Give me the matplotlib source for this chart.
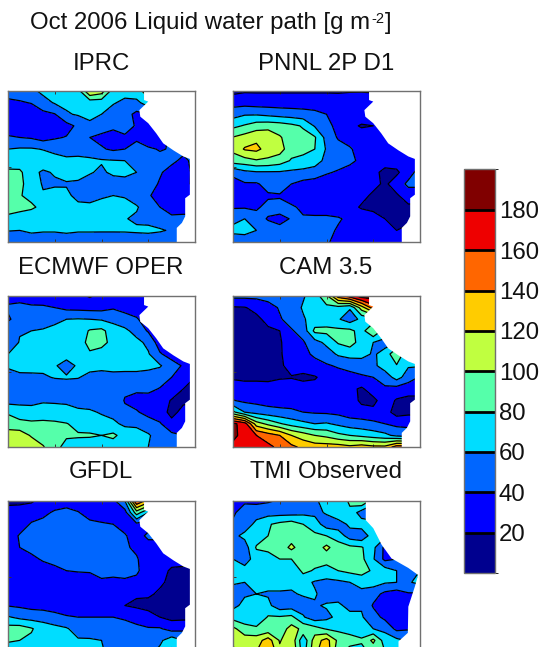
import numpy as np
import matplotlib
matplotlib.use("Agg")
import matplotlib.pyplot as plt
from matplotlib.colors import ListedColormap, BoundaryNorm

plt.rcParams['font.family'] = ['Liberation Sans', 'DejaVu Sans']

# grille : 17 longitudes, 14 latitudes (nord -> sud)
lon = np.linspace(-110, -70, 17)
lat = np.linspace(0, -30, 14)
levels = [0, 20, 40, 60, 80, 100, 120, 140, 160, 180, 200]
colors = ['#00008f', '#0000ff', '#0066ff', '#00ddff', '#55ffaa',
          '#c0ff40', '#ffcc00', '#ff6600', '#ee0000', '#800000']

titles = ['IPRC', 'PNNL 2P D1', 'ECMWF OPER', 'CAM 3.5', 'GFDL', 'TMI Observed']

iprc = [
    [50, 50, 55, 65, 68, 70, 72, 120, 110, 70, 68, 72, 90, 60, 60, 60, 60],
    [35, 38, 41, 52, 62, 64, 66, 68, 68, 62, 55, 55, 70, 50, 50, 50, 50],
    [32, 30, 28, 35, 39, 58, 62, 66, 60, 50, 48, 35, 40, 40, 40, 40, 40],
    [30, 28, 27, 28, 30, 33, 44, 55, 50, 48, 48, 38, 20, 25, 30, 30, 30],
    [42, 40, 38, 32, 38, 41, 41, 40, 35, 25, 37, 38, 22, 30, 45, 45, 45],
    [60, 62, 62, 59, 53, 48, 47, 46, 42, 37, 40, 44, 44, 38, 42, 45, 45],
    [67, 68, 70, 72, 70, 66, 68, 65, 62, 61, 60, 53, 50, 48, 44, 36, 45],
    [85, 84, 66, 57, 62, 68, 78, 62, 56, 65, 68, 60, 45, 42, 33, 32, 45],
    [80, 84, 72, 58, 57, 58, 52, 50, 50, 48, 48, 50, 48, 38, 30, 33, 45],
    [90, 82, 72, 62, 68, 65, 53, 50, 57, 60, 58, 50, 42, 33, 28, 30, 30],
    [100, 90, 85, 72, 69, 68, 66, 66, 68, 70, 68, 62, 50, 40, 30, 32, 32],
    [68, 65, 60, 64, 68, 70, 70, 68, 68, 65, 61, 57, 55, 50, 45, 45, 45],
    [61, 60, 64, 62, 62, 64, 62, 62, 62, 62, 62, 63, 64, 62, 58, 55, 55],
    [45, 45, 47, 48, 48, 48, 48, 48, 47, 47, 48, 48, 48, 47, 45, 45, 45],
]
pnnl = [
    [15, 18, 18, 18, 18, 18, 18, 18, 18, 18, 18, 18, 18, 18, 18, 18, 18],
    [32, 32, 30, 30, 30, 30, 30, 30, 30, 28, 35, 38, 30, 30, 30, 30, 30],
    [52, 58, 58, 55, 52, 50, 48, 45, 40, 33, 22, 32, 38, 30, 30, 30, 30],
    [75, 82, 90, 92, 90, 85, 78, 58, 45, 35, 25, 18, 20, 30, 30, 30, 30],
    [101, 108, 115, 115, 102, 90, 86, 82, 53, 38, 32, 30, 35, 38, 30, 30, 30],
    [105, 122, 125, 112, 108, 88, 88, 80, 58, 48, 42, 32, 32, 35, 28, 28, 28],
    [90, 92, 98, 96, 90, 78, 72, 68, 55, 48, 44, 36, 28, 28, 28, 30, 30],
    [45, 55, 58, 58, 58, 56, 55, 52, 42, 38, 33, 28, 25, 15, 17, 30, 50],
    [33, 38, 38, 46, 52, 40, 33, 30, 30, 30, 28, 25, 25, 17, 28, 45, 45],
    [30, 28, 30, 38, 38, 30, 28, 28, 28, 28, 27, 25, 17, 15, 18, 28, 28],
    [38, 38, 38, 44, 46, 43, 36, 30, 30, 28, 26, 18, 15, 15, 15, 17, 17],
    [55, 60, 45, 39, 36, 41, 42, 44, 44, 42, 36, 32, 28, 20, 15, 18, 18],
    [65, 67, 60, 46, 44, 47, 50, 48, 45, 38, 30, 30, 28, 28, 20, 22, 22],
    [48, 48, 48, 46, 46, 46, 46, 44, 42, 35, 30, 30, 28, 28, 25, 25, 25],
]
ecmwf = [
    [35, 33, 30, 32, 30, 30, 25, 18, 25, 28, 30, 30, 25, 25, 25, 25, 25],
    [42, 45, 43, 42, 40, 35, 34, 33, 33, 38, 35, 30, 30, 30, 30, 30, 30],
    [38, 46, 48, 50, 53, 60, 61, 60, 58, 54, 46, 42, 30, 30, 30, 30, 30],
    [50, 58, 60, 62, 68, 62, 68, 82, 85, 70, 65, 52, 38, 30, 30, 30, 30],
    [40, 62, 65, 68, 75, 80, 72, 85, 88, 72, 68, 66, 55, 30, 30, 30, 30],
    [60, 66, 68, 68, 66, 68, 72, 78, 70, 70, 68, 67, 62, 42, 32, 32, 32],
    [62, 66, 65, 64, 62, 52, 63, 66, 66, 68, 68, 66, 65, 62, 48, 38, 38],
    [54, 56, 57, 58, 61, 62, 61, 55, 52, 53, 52, 54, 52, 48, 40, 32, 20],
    [45, 42, 45, 48, 50, 50, 50, 50, 53, 50, 45, 44, 44, 39, 35, 20, 20],
    [52, 55, 57, 58, 58, 58, 52, 50, 60, 60, 38, 32, 33, 32, 18, 17, 18],
    [78, 68, 64, 68, 66, 64, 64, 63, 58, 54, 46, 42, 33, 28, 15, 25, 25],
    [88, 87, 85, 85, 84, 81, 74, 72, 68, 64, 56, 56, 50, 42, 25, 28, 28],
    [112, 110, 98, 88, 84, 82, 82, 82, 80, 84, 72, 68, 62, 52, 45, 40, 40],
    [115, 112, 112, 102, 85, 75, 72, 70, 70, 70, 66, 70, 60, 52, 48, 48, 48],
]
cam = [
    [45, 45, 45, 48, 50, 52, 58, 70, 95, 150, 170, 190, 190, 190, 190, 190, 190],
    [18, 19, 25, 32, 42, 50, 62, 66, 75, 72, 62, 110, 150, 150, 150, 150, 150],
    [15, 15, 16, 25, 38, 48, 58, 68, 70, 62, 50, 65, 70, 70, 70, 70, 70],
    [12, 12, 14, 17, 20, 38, 48, 85, 85, 85, 85, 72, 100, 70, 70, 70, 70],
    [12, 12, 12, 14, 18, 30, 38, 52, 65, 82, 88, 72, 60, 55, 60, 60, 60],
    [12, 12, 12, 14, 18, 28, 37, 42, 50, 63, 68, 66, 58, 65, 100, 60, 60],
    [12, 12, 12, 14, 17, 26, 30, 36, 38, 42, 45, 50, 55, 70, 78, 62, 62],
    [17, 15, 15, 14, 18, 19, 15, 18, 28, 32, 35, 37, 40, 48, 68, 50, 38],
    [32, 30, 30, 30, 30, 30, 30, 28, 22, 28, 25, 17, 30, 37, 32, 28, 28],
    [41, 36, 34, 32, 32, 33, 35, 33, 32, 32, 30, 16, 15, 30, 18, 15, 15],
    [85, 60, 53, 48, 45, 43, 40, 38, 37, 35, 30, 28, 25, 28, 12, 15, 15],
    [185, 170, 110, 95, 82, 72, 65, 60, 62, 56, 50, 48, 45, 40, 35, 35, 35],
    [190, 165, 160, 150, 140, 120, 110, 100, 95, 85, 80, 75, 70, 65, 55, 50, 50],
    [170, 165, 165, 165, 155, 145, 135, 130, 130, 130, 125, 130, 125, 125, 150, 150, 150],
]
gfdl = [
    [15, 15, 18, 25, 28, 30, 30, 30, 32, 35, 60, 160, 130, 130, 130, 130, 130],
    [28, 30, 30, 35, 43, 47, 41, 33, 30, 30, 32, 90, 60, 60, 60, 60, 60],
    [28, 30, 42, 46, 48, 48, 47, 44, 42, 40, 32, 35, 30, 30, 30, 30, 30],
    [28, 42, 46, 47, 48, 48, 50, 55, 46, 44, 42, 30, 45, 45, 45, 45, 45],
    [28, 40, 45, 45, 47, 48, 52, 47, 46, 46, 43, 36, 30, 30, 30, 30, 30],
    [28, 32, 36, 42, 45, 46, 46, 46, 46, 45, 44, 42, 28, 27, 25, 25, 25],
    [27, 27, 28, 32, 36, 40, 41, 41, 44, 45, 46, 43, 30, 25, 18, 17, 17],
    [25, 25, 26, 27, 28, 30, 32, 35, 38, 36, 37, 35, 28, 22, 17, 15, 15],
    [28, 28, 28, 28, 28, 28, 27, 27, 26, 25, 24, 22, 22, 18, 15, 15, 15],
    [39, 37, 34, 32, 30, 28, 28, 27, 27, 26, 20, 17, 16, 16, 14, 14, 14],
    [62, 55, 52, 52, 47, 42, 40, 40, 40, 40, 38, 32, 25, 20, 15, 15, 15],
    [88, 90, 82, 70, 66, 62, 52, 50, 53, 48, 46, 45, 42, 42, 32, 35, 35],
    [82, 80, 76, 72, 70, 66, 62, 62, 60, 54, 50, 50, 50, 56, 72, 60, 60],
    [70, 70, 68, 66, 64, 62, 62, 62, 62, 54, 52, 52, 55, 65, 85, 85, 85],
]
tmi = [
    [35, 38, 35, 38, 42, 50, 45, 55, 72, 60, 85, 100, 70, 70, 70, 70, 70],
    [38, 46, 52, 52, 52, 52, 55, 55, 62, 78, 74, 50, 40, 40, 40, 40, 40],
    [42, 50, 65, 78, 85, 90, 80, 70, 50, 48, 65, 70, 70, 70, 70, 70, 70],
    [55, 65, 70, 80, 88, 90, 88, 84, 80, 72, 50, 45, 72, 65, 65, 65, 65],
    [58, 50, 82, 85, 88, 105, 88, 88, 105, 88, 85, 82, 65, 35, 45, 45, 45],
    [60, 50, 70, 72, 80, 80, 88, 88, 88, 85, 85, 85, 62, 35, 40, 50, 50],
    [62, 68, 72, 68, 70, 62, 85, 78, 72, 80, 85, 85, 78, 70, 60, 58, 60],
    [62, 60, 66, 66, 72, 64, 66, 58, 55, 56, 60, 72, 68, 62, 60, 58, 65],
    [52, 58, 60, 58, 56, 58, 62, 62, 52, 48, 55, 50, 48, 35, 30, 38, 38],
    [55, 65, 70, 65, 48, 50, 52, 58, 62, 65, 52, 58, 38, 35, 28, 30, 30],
    [72, 68, 60, 82, 82, 85, 62, 48, 55, 65, 68, 62, 48, 35, 30, 35, 35],
    [105, 88, 85, 85, 88, 108, 95, 88, 78, 75, 72, 72, 60, 55, 35, 38, 38],
    [105, 110, 110, 130, 98, 115, 65, 110, 128, 95, 88, 82, 105, 70, 65, 58, 58],
    [95, 108, 120, 145, 105, 120, 70, 115, 135, 85, 72, 75, 85, 80, 70, 60, 60],
]
panels = [iprc, pnnl, ecmwf, cam, gfdl, tmi]

# trait de cote (continent masque en blanc)
coast_lon = [-80.9, -80.9, -80.0, -81.9, -81.7, -80.0, -78.3, -76.8, -74.6,
             -72.5, -71.1, -71.1, -72.1, -72.1, -72.8, -73.9, -73.9]
coast_lat = [0, -1.8, -2.1, -3.8, -5.1, -6.4, -8.4, -10.4, -11.8,
             -13.0, -13.5, -20.6, -21.3, -24.9, -26.2, -27.2, -30]
coast_lon_tmi = [-81.6, -81.6, -80.0, -78.2, -76.1, -72.5, -70.4, -71.1,
                 -72.5, -72.6, -74.6, -74.6]
coast_lat_tmi = [0, -3.8, -5.4, -8.7, -11.4, -13.3, -14.7, -17.0,
                 -21.0, -26.2, -27.9, -30]

W, H = 540, 647
cmap = ListedColormap(colors)
norm = BoundaryNorm(levels, cmap.N)

fig = plt.figure(figsize=(W / 100, H / 100), dpi=100)
grey = '#707070'
tcol = '#111111'
tsize = 17.3


def add_axes_px(x0, y0, x1, y1):
    return fig.add_axes([x0 / W, 1 - y1 / H, (x1 - x0) / W, (y1 - y0) / H])


lefts = [8, 233]
tops = [91, 296, 501]
title_base = [69.5, 273.5, 478]

for i, z in enumerate(panels):
    col, row = i % 2, i // 2
    x0, y0 = lefts[col], tops[row]
    ax = add_axes_px(x0, y0, x0 + 187, y0 + 151)
    grid = np.array(z, dtype=float)
    cf = ax.contourf(lon, lat, grid, levels=levels, cmap=cmap, norm=norm)
    ax.contour(lon, lat, grid, levels=levels[1:-1], colors='k', linewidths=0.9)
    if i == 5:
        cx, cy = coast_lon_tmi, coast_lat_tmi
    else:
        cx, cy = coast_lon, coast_lat
    ax.fill(list(cx) + [-70, -70], list(cy) + [-30, 0], color='white', lw=0, zorder=3)
    ax.set_xlim(-110, -70)
    ax.set_ylim(-30, 0)
    ax.set_xticks([-100, -90, -80])
    ax.set_yticks([-15])
    ax.tick_params(direction='in', length=2, width=0.7, color='#333333',
                   labelbottom=False, labelleft=False, top=True, right=True)
    for s in ax.spines.values():
        s.set_color(grey)
        s.set_linewidth(1)
        s.set_zorder(5)
    fig.text((x0 + 93) / W, 1 - title_base[row] / H, titles[i], fontsize=tsize,
             ha='center', va='baseline', color=tcol)

# titre general, exposant en morceaux separes pour garder le tiret
renderer = fig.canvas.get_renderer()
t1 = fig.text(30 / W, 1 - 29.5 / H, 'Oct 2006 Liquid water path [g m', fontsize=tsize,
              ha='left', va='baseline', color=tcol)
x1 = t1.get_window_extent(renderer).x1
t2 = fig.text((x1 + 1) / W, 1 - 23 / H, '-2', fontsize=10.5, ha='left', va='baseline', color=tcol)
x2 = t2.get_window_extent(renderer).x1
fig.text((x2 + 1) / W, 1 - 29.5 / H, ']', fontsize=tsize, ha='left', va='baseline', color=tcol)

cax = add_axes_px(463.5, 169.5, 494.5, 573)
cb = fig.colorbar(cf, cax=cax, ticks=levels[1:-1], drawedges=True)
cb.dividers.set_color('k')
cb.dividers.set_linewidth(2)
cb.dividers.set_capstyle('butt')
cb.outline.set_edgecolor(grey)
cb.outline.set_linewidth(1)
cb.ax.tick_params(length=0, labelsize=17.3, pad=3, labelcolor=tcol)

plt.savefig('out.png', dpi=100)
